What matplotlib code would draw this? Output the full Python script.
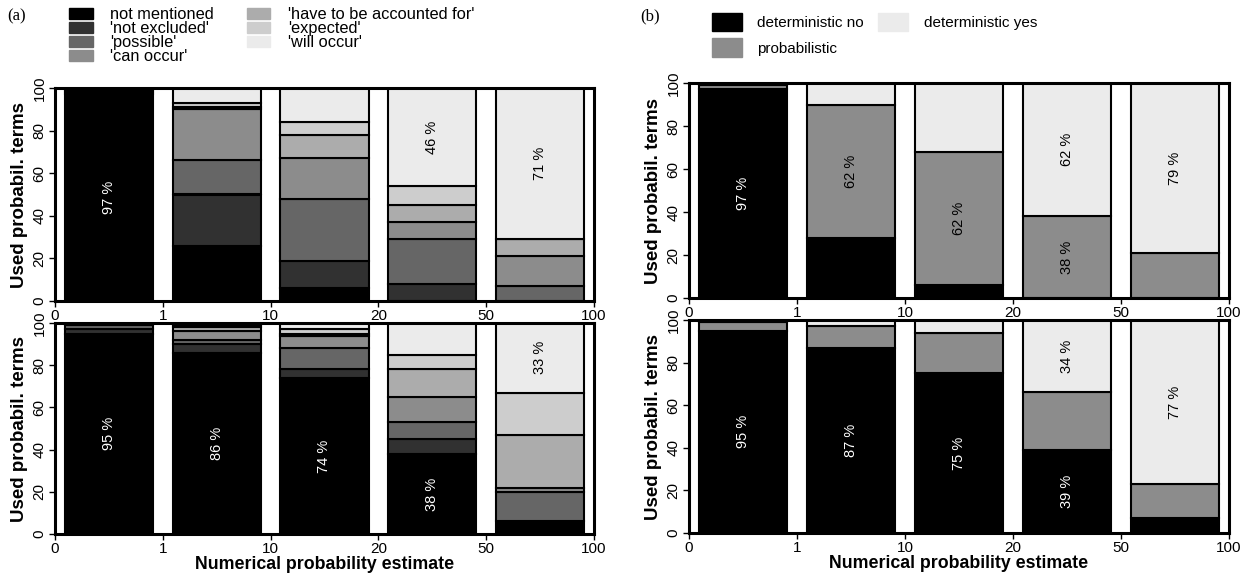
import matplotlib.pyplot as plt
from matplotlib.patches import Patch
import numpy as np

plt.rcParams['font.family'] = ['Liberation Sans', 'DejaVu Sans']

ticklabels = ['0', '1', '10', '20', '50', '100']

# (a) wording categories, bottom to top
terms = ['not mentioned', "'not excluded'", "'possible'", "'can occur'",
         "'have to be accounted for'", "'expected'", "'will occur'"]
term_colors = ['#000000', '#313131', '#666666', '#8c8c8c', '#acacac', '#cdcdcd', '#ebebeb']

# rows = interval (0-1, 1-10, 10-20, 20-50, 50-100), columns = terms
a_top = np.array([
    [97, 1, 1, 1, 0, 0, 0],
    [26, 24, 16, 24, 1, 2, 7],
    [6, 13, 29, 19, 11, 6, 16],
    [0, 8, 21, 8, 8, 9, 46],
    [0, 0, 7, 14, 8, 0, 71],
])
a_bot = np.array([
    [95, 2, 2, 1, 0, 0, 0],
    [86, 4, 2, 4, 2, 1, 1],
    [74, 4, 10, 6, 1, 2, 3],
    [38, 7, 8, 12, 13, 7, 15],
    [6, 0, 14, 2, 25, 20, 33],
])
# which segment carries a percent label, per interval
a_top_lab = [[0], [], [], [6], [6]]
a_bot_lab = [[0], [0], [0], [0], [6]]

# (b) classes
classes = ['deterministic no', 'probabilistic', 'deterministic yes']
class_colors = ['#000000', '#8c8c8c', '#ebebeb']
b_top = np.array([
    [97, 2, 1],
    [28, 62, 10],
    [6, 62, 32],
    [0, 38, 62],
    [0, 21, 79],
])
b_bot = np.array([
    [95, 4, 1],
    [87, 10, 3],
    [75, 19, 6],
    [39, 27, 34],
    [7, 16, 77],
])
b_top_lab = [[0], [1], [1], [1, 2], [2]]
b_bot_lab = [[0], [0], [0], [0, 2], [2]]


def stacked(ax, data, colors, labelled, xlabel=False):
    x = np.arange(data.shape[0]) + 0.5
    bottom = np.zeros(data.shape[0])
    for j in range(data.shape[1]):
        h = data[:, j]
        ax.bar(x, h, bottom=bottom, width=0.82, color=colors[j],
               edgecolor='black', linewidth=1.5)
        for i in range(data.shape[0]):
            if j in labelled[i]:
                tc = 'white' if colors[j] == '#000000' else 'black'
                ax.text(x[i], bottom[i] + h[i] / 2, '%d %%' % h[i], rotation=90,
                        ha='center', va='center', fontsize=10.5, color=tc)
        bottom = bottom + h
    ax.set_xlim(0, 5)
    ax.set_ylim(0, 100)
    ax.set_xticks(range(6))
    ax.set_xticklabels(ticklabels)
    ax.set_yticks(range(0, 101, 20))
    ax.set_yticklabels([str(v) for v in range(0, 101, 20)], rotation=90, va='center')
    ax.tick_params(length=4, width=1, labelsize=11, pad=2)
    for s in ax.spines.values():
        s.set_linewidth(2.2)
    ax.set_ylabel('Used probabil. terms', fontweight='bold', fontsize=13.5, labelpad=3)
    if xlabel:
        ax.set_xlabel('Numerical probability estimate', fontweight='bold',
                      fontsize=12.8, labelpad=0)


fig = plt.figure(figsize=(12.48, 5.75), dpi=100)
W, H = 1248, 575


def box(l, r, t, b):
    return [l / W, 1 - b / H, (r - l) / W, (b - t) / H]


ax1 = fig.add_axes(box(55, 594, 88, 301))
ax2 = fig.add_axes(box(55, 594, 323, 534))
ax3 = fig.add_axes(box(689, 1229, 83, 298))
ax4 = fig.add_axes(box(689, 1229, 320, 533))

stacked(ax1, a_top, term_colors, a_top_lab)
stacked(ax2, a_bot, term_colors, a_bot_lab, xlabel=True)
stacked(ax3, b_top, class_colors, b_top_lab)
stacked(ax4, b_bot, class_colors, b_bot_lab, xlabel=True)

fig.text(7 / W, 1 - 20 / H, '(a)', family='Liberation Serif', fontsize=12)
fig.text(640 / W, 1 - 20 / H, '(b)', family='Liberation Serif', fontsize=12)

fig.legend([Patch(color=c) for c in term_colors], terms, ncol=2, frameon=False,
           loc='upper left', bbox_to_anchor=(61 / W, 1 + 1 / H), fontsize=11.8,
           handlelength=1.45, handleheight=0.72, labelspacing=-0.06,
           columnspacing=2.0, handletextpad=1.05, borderpad=0)
fig.legend([Patch(color=c) for c in class_colors], classes, ncol=2, frameon=False,
           loc='upper left', bbox_to_anchor=(704 / W, 1 - 5 / H), fontsize=11,
           handlelength=2.0, handleheight=1.5, labelspacing=0.45,
           columnspacing=0.9, handletextpad=1.0, borderpad=0)

fig.savefig('out.png', dpi=100)
